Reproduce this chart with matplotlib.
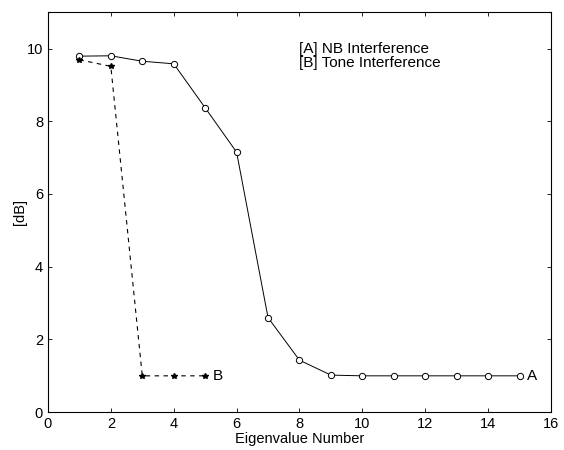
import numpy as np
import matplotlib
matplotlib.use("Agg")
import matplotlib.pyplot as plt

plt.rcParams['font.family'] = ['Liberation Sans', 'DejaVu Sans']

# eigenvalue curves
eig_a = [1, 2, 3, 4, 5, 6, 7, 8, 9, 10, 11, 12, 13, 14, 15]
db_a = [9.79, 9.80, 9.65, 9.58, 8.37, 7.15, 2.60, 1.43, 1.02, 1.0, 1.0, 1.0, 1.0, 1.0, 1.0]
eig_b = [1, 2, 3, 4, 5]
db_b = [9.69, 9.51, 1.0, 1.0, 1.0]

legend_lines = ["[A] NB Interference", "[B] Tone Interference"]

fig = plt.figure(figsize=(5.64, 4.5), dpi=100)
ax = fig.add_axes([0.085, 0.084, 0.892, 0.889])

ax.plot(eig_a, db_a, color='black', lw=0.7, marker='o', ms=4.5,
        mfc='white', mec='black', mew=0.7)
ax.plot(eig_b, db_b, color='black', lw=0.8, ls=(0, (4, 4)), marker='*', ms=4,
        mfc='black', mec='black')

ax.text(eig_a[-1] + 0.25, db_a[-1], "A", fontsize=11, va='center', ha='left')
ax.text(eig_b[-1] + 0.25, db_b[-1], "B", fontsize=11, va='center', ha='left')

ax.text(8.0, 10.0, legend_lines[0], fontsize=11, va='center', ha='left')
ax.text(8.0, 9.6, legend_lines[1], fontsize=11, va='center', ha='left')

ax.set_xlim(0, 16)
ax.set_ylim(0, 11)
ax.set_xticks(np.arange(0, 17, 2))
ax.set_yticks(np.arange(0, 11, 2))
ax.tick_params(direction='in', top=True, right=True, labelsize=10.5, length=3, width=0.6)
for s in ax.spines.values():
    s.set_linewidth(0.8)

ax.set_xlabel("Eigenvalue Number", fontsize=10.5, labelpad=1)
ax.set_ylabel("[dB]", fontsize=10.5, labelpad=0)

fig.savefig("out.png", dpi=100)
